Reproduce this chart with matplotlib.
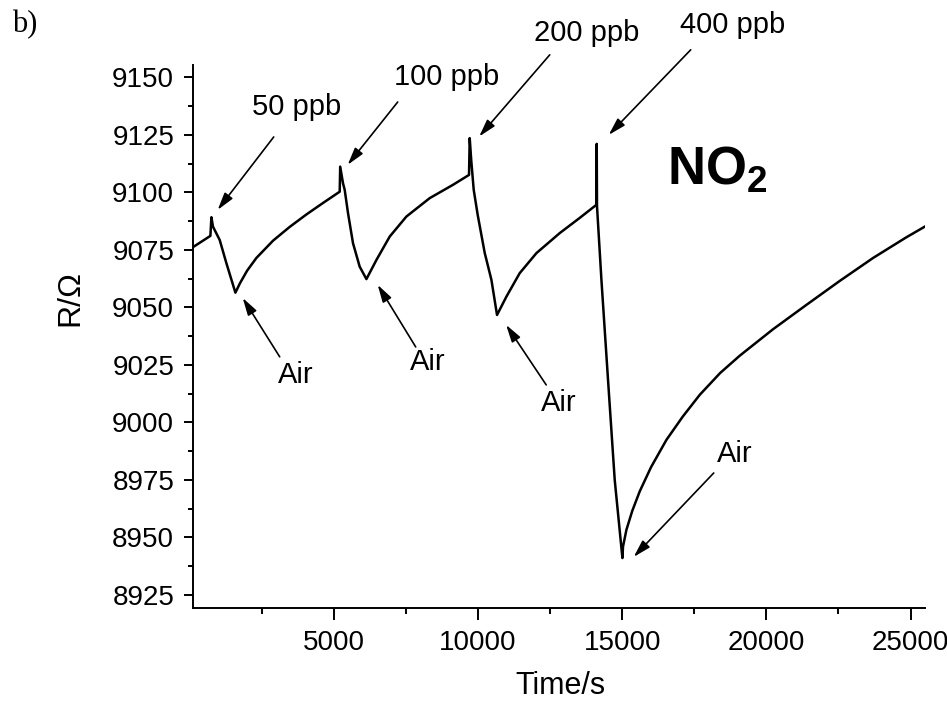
import matplotlib
matplotlib.use("Agg")
import matplotlib.pyplot as plt
from matplotlib.ticker import MultipleLocator

plt.rcParams['font.family'] = ['Liberation Sans', 'DejaVu Sans']
plt.rcParams['mathtext.fontset'] = 'custom'
plt.rcParams['mathtext.rm'] = 'Liberation Sans'
plt.rcParams['mathtext.bf'] = 'Liberation Sans:bold'

# resistance trace (time in s, R in ohm)
time_s = [122, 725, 760, 815, 1048, 1280, 1592, 1750, 2000, 2320, 2896, 3475,
          4053, 4629, 5208, 5225, 5322, 5381, 5496, 5669, 5901, 6134, 6480,
          6942, 7520, 8328, 9136, 9691, 9715, 9767, 9854, 9992, 10235, 10467,
          10662, 10988, 11449, 12028, 12836, 13518, 14108, 14118, 14128, 14281,
          14510, 14742, 15009, 15030, 15148, 15350, 15609, 16000, 16535, 17100,
          17691, 18400, 19077, 20231, 21389, 22543, 23700, 24856, 25490]
resistance = [9076.2, 9081.1, 9089.2, 9085.1, 9079.3, 9069.2, 9056.4, 9060.5,
              9066.0, 9071.5, 9079.0, 9085.0, 9090.4, 9095.4, 9100.3, 9111.2,
              9104.0, 9101.1, 9091.0, 9077.9, 9067.7, 9062.3, 9070.6, 9080.8,
              9089.5, 9097.5, 9103.3, 9107.6, 9123.6, 9114.1, 9101.1, 9090.2,
              9073.7, 9062.0, 9046.7, 9054.7, 9064.9, 9073.6, 9082.3, 9088.8,
              9094.6, 9121.1, 9094.0, 9062.0, 9018.5, 8975.0, 8941.0, 8946.0,
              8953.3, 8961.5, 8970.0, 8980.5, 8992.4, 9002.5, 9012.0, 9021.5,
              9029.0, 9040.5, 9051.1, 9061.5, 9071.5, 9080.5, 9085.1]

# annotations: label, text position, arrow tail, arrow tip
gas_labels = ['50 ppb', '100 ppb', '200 ppb', '400 ppb']
gas_text = [(3700, 9133.7), (8900, 9146.7), (13754, 9165.9), (18833, 9169.3)]
gas_tail = [(2920, 9124.1), (7219, 9139.3), (12489, 9159.8), (17377, 9162.0)]
gas_tip = [(978, 9092.4), (5485, 9112.0), (10044, 9124.3), (14534, 9125.0)]

air_text = [(3683, 9017.2), (8276, 9022.8), (12801, 9005.0), (18903, 8982.8)]
air_tail = [(3128, 9028.5), (7843, 9032.8), (12367, 9016.3), (18175, 8978.0)]
air_tip = [(1845, 9054.1), (6525, 9059.8), (10977, 9042.4), (15401, 8941.5)]

fig = plt.figure(figsize=(9.47, 7.04), dpi=100)
ax = fig.add_axes([0.2038, 0.1364, 0.773, 0.7713])

ax.plot(time_s, resistance, color='black', lw=1.8)

ax.set_xlim(122, 25500)
ax.set_ylim(8919.3, 9155.4)
ax.xaxis.set_major_locator(MultipleLocator(5000))
ax.xaxis.set_minor_locator(MultipleLocator(2500))
ax.yaxis.set_major_locator(MultipleLocator(25))
ax.yaxis.set_minor_locator(MultipleLocator(12.5))

for side in ['top', 'right']:
    ax.spines[side].set_visible(False)
for side in ['left', 'bottom']:
    ax.spines[side].set_linewidth(1.4)

ax.tick_params(axis='x', which='major', length=8.5, width=1.4, labelsize=20, pad=7)
ax.tick_params(axis='x', which='minor', length=4, width=1.4)
ax.tick_params(axis='y', which='major', length=6.5, width=1.4, labelsize=20, pad=7)
ax.tick_params(axis='y', which='minor', length=3.6, width=1.4)

arrow = dict(arrowstyle='-|>,head_length=0.7,head_width=0.2', color='black',
             lw=1.2, mutation_scale=15, shrinkA=0, shrinkB=0)

for lab, txt, tail, tip in zip(gas_labels, gas_text, gas_tail, gas_tip):
    ax.text(txt[0], txt[1], lab, ha='center', va='baseline', fontsize=21,
            clip_on=False)
    ax.annotate('', xy=tip, xytext=tail, arrowprops=arrow, annotation_clip=False)

for txt, tail, tip in zip(air_text, air_tail, air_tip):
    ax.text(txt[0], txt[1], 'Air', ha='center', va='baseline', fontsize=21)
    ax.annotate('', xy=tip, xytext=tail, arrowprops=arrow)

ax.text(16545, 9103.3, r'$\mathbf{NO_2}$', ha='left', va='baseline', fontsize=38)

fig.text(560 / 947, 1 - 694 / 704, 'Time/s', ha='center', va='baseline', fontsize=22)
fig.text(70 / 947, 1 - 298 / 704, 'R/\u03a9', ha='center', va='center',
         rotation=90, fontsize=23)
fig.text(12 / 947, 1 - 32 / 704, 'b)', family='Liberation Serif', fontsize=22,
         va='baseline')

fig.savefig('out.png', dpi=100)
